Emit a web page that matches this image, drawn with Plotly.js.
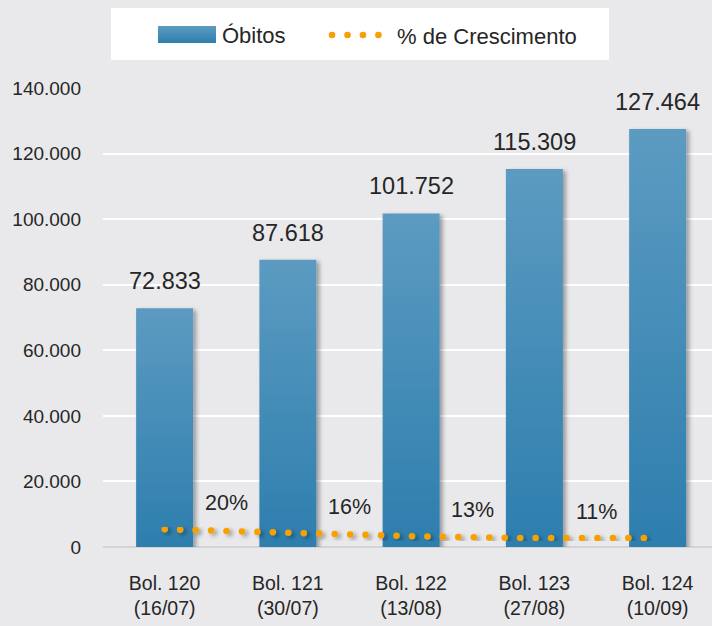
<!DOCTYPE html>
<html>
<head>
<meta charset="utf-8">
<script src="https://cdn.plot.ly/plotly-3.0.1.min.js"></script>
<style>
  html, body { margin: 0; padding: 0; background: #e9e9eb; }
  #chart { width: 712px; height: 626px; }
</style>
</head>
<body>
<div id="chart"></div>
<script>
// ---- data ----
const boletins = ['Bol. 120', 'Bol. 121', 'Bol. 122', 'Bol. 123', 'Bol. 124'];
const datas = ['(16/07)', '(30/07)', '(13/08)', '(27/08)', '(10/09)'];
const obitos = [72833, 87618, 101752, 115309, 127464];
const crescimentoLinha = [20, 16, 13, 11, 11];
const crescimento = [20, 16, 13, 11];

const categories = boletins.map((b, i) => b + '<br>' + datas[i]);
const FONT = 'Liberation Sans, Arial, sans-serif';
const TXT = '#262626';

function fmt(v) { return String(v).replace(/\B(?=(\d{3})+(?!\d))/g, '.'); }

const traces = [
  {
    type: 'bar', name: 'Óbitos', x: categories, y: obitos,
    marker: { color: '#4189b6' }, hoverinfo: 'skip'
  },
  {
    type: 'scatter', mode: 'lines', name: '% de Crescimento', x: categories, y: crescimentoLinha,
    yaxis: 'y2', line: { color: '#f7a005', width: 6.5, dash: '6px,9.4px' }, hoverinfo: 'skip'
  }
];

const annotations = [];
obitos.forEach((v, i) => annotations.push({
  x: categories[i], y: v, xref: 'x', yref: 'y', text: fmt(v), showarrow: false,
  yanchor: 'bottom', yshift: 12, font: { family: FONT, size: 23.5, color: TXT }
}));
crescimento.forEach((v, i) => annotations.push({
  x: i + 0.5, y: v, xref: 'x', yref: 'y2', text: v + '%', showarrow: false,
  yanchor: 'middle', yshift: 26, font: { family: FONT, size: 21.5, color: TXT }
}));

const layout = {
  width: 712, height: 626,
  margin: { l: 103, r: 0, t: 88, b: 79 },
  paper_bgcolor: '#e9e9eb', plot_bgcolor: '#e9e9eb',
  separators: ',.',
  font: { family: FONT, color: TXT, size: 20 },
  bargap: 0.5375,
  showlegend: true,
  legend: {
    orientation: 'h', x: 0.42, xanchor: 'center', y: 1.169, yanchor: 'top',
    bgcolor: 'rgba(0,0,0,0)', font: { family: FONT, size: 22, color: TXT },
    itemwidth: 60
  },
  xaxis: {
    type: 'category', range: [-0.5, 4.441], showgrid: false, zeroline: false,
    showline: false, ticks: '', ticklabelstandoff: 22,
    tickfont: { family: FONT, size: 19.5, color: TXT }
  },
  yaxis: {
    range: [0, 140000], dtick: 20000, tickformat: ',', showgrid: true,
    gridcolor: '#ffffff', gridwidth: 2, zeroline: true, zerolinecolor: '#d4d4d6',
    zerolinewidth: 2, showline: false, ticks: '', ticklabelstandoff: 21,
    tickfont: { family: FONT, size: 19, color: TXT }
  },
  yaxis2: { overlaying: 'y', range: [2, 467], visible: false },
  shapes: [{
    type: 'rect', xref: 'paper', yref: 'paper', layer: 'above',
    x0: (111 - 103) / 609, x1: (609 - 103) / 609,
    y0: 1 + (88 - 60) / 459, y1: 1 + (88 - 8) / 459,
    fillcolor: '#ffffff', line: { width: 0 }
  }],
  annotations: annotations
};

function shiftGroup(g, dx, dy) {
  const t = g.getAttribute('transform') || '';
  const m = t.match(/translate\(\s*([-\d.e]+)[ ,]+([-\d.e]+)\s*\)/);
  const x = m ? parseFloat(m[1]) : 0, y = m ? parseFloat(m[2]) : 0;
  g.setAttribute('transform', 'translate(' + (x + dx) + ',' + (y + dy) + ')');
}

Plotly.newPlot('chart', traces, layout, { displayModeBar: false, staticPlot: true }).then(gd => {
  const svg = gd.querySelector('svg.main-svg');
  const NS = 'http://www.w3.org/2000/svg';
  let defs = svg.querySelector('defs');
  if (!defs) { defs = document.createElementNS(NS, 'defs'); svg.insertBefore(defs, svg.firstChild); }
  const tmp = new DOMParser().parseFromString('<svg xmlns="' + NS + '">' +
    '<linearGradient id="barGrad" x1="0" y1="0" x2="0" y2="1"><stop offset="0" stop-color="#5c9bc1"/><stop offset="1" stop-color="#2d7eae"/></linearGradient>' +
    '<filter id="shadow" x="-20%" y="-20%" width="150%" height="150%"><feDropShadow dx="3" dy="2" stdDeviation="2" flood-color="#000" flood-opacity="0.35"/></filter></svg>', 'image/svg+xml');
  Array.from(tmp.documentElement.childNodes).forEach(n => defs.appendChild(document.importNode(n, true)));

  gd.querySelectorAll('.barlayer .point path').forEach(p => {
    p.style.fill = 'url(#barGrad)';
    p.setAttribute('filter', 'url(#shadow)');
  });
  gd.querySelectorAll('.scatterlayer .js-line').forEach(p => {
    p.style.strokeLinecap = 'round';
    p.style.strokeDasharray = '0.1px,15.36px';
    p.setAttribute('filter', 'url(#shadow)');
  });
  gd.querySelectorAll('.legend .legendpoints path').forEach(p => {
    p.setAttribute('d', 'M-29,-8.5h58v17h-58Z');
    p.style.fill = 'url(#barGrad)';
  });
  gd.querySelectorAll('.legend .legendlines path').forEach(p => {
    p.style.strokeLinecap = 'round';
    p.style.strokeDasharray = '0.1px,15.36px';
  });
  // let legend entries sit freely (no clipping) and place them like the reference
  gd.querySelectorAll('.legend [clip-path]').forEach(el => el.removeAttribute('clip-path'));
  const items = gd.querySelectorAll('.legend .traces');
  if (items.length >= 2) {
    const sw = items[0].querySelector('.legendpoints path');
    const ln = items[1].querySelector('.legendlines path');
    if (sw) {
      const r = sw.getBoundingClientRect();
      shiftGroup(items[0], 187 - (r.left + r.width / 2), 34.5 - (r.top + r.height / 2));
    }
    if (ln) {
      const r = ln.getBoundingClientRect();
      shiftGroup(items[1], 332 - r.left, 35 - (r.top + r.height / 2));
    }
  }
});
</script>
</body>
</html>
